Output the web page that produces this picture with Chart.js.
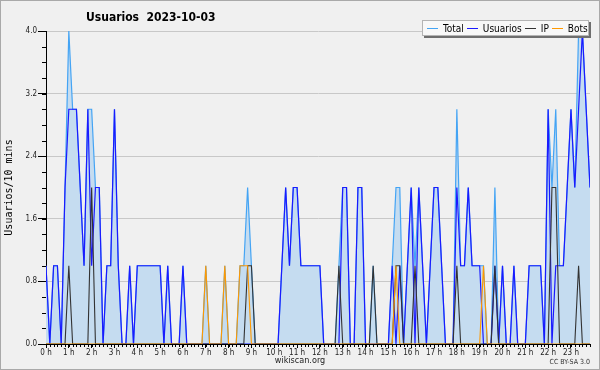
<!DOCTYPE html>
<html>
<head>
<meta charset="utf-8">
<script src="https://cdn.jsdelivr.net/npm/chart.js"></script>
<style>
  body { margin: 0; background: #f0f0f0; }
  #wrap { position: relative; width: 600px; height: 370px; overflow: hidden;
          font-family: "DejaVu Sans Condensed", "DejaVu Sans", sans-serif; color: #000; }
  #chart { position: absolute; left: 0; top: 0; }
  #frame { position: absolute; left: 0; top: 0; width: 600px; height: 370px; box-sizing: border-box;
           border: 1px solid #a9a9a9; pointer-events: none; }
  #title { position: absolute; left: 86px; top: 10px; font-size: 12px; font-weight: bold; white-space: pre; }
  #legend { position: absolute; left: 422px; top: 20px; width: 167px; height: 16px; box-sizing: border-box;
            background: #f8f8f8; border: 1px solid #b4b4b4; box-shadow: 2px 2px 0 #6e6e6e;
            font-size: 10px; display: flex; align-items: center; padding-left: 4px; white-space: nowrap; }
  #legend .it { display: flex; align-items: center; flex-shrink: 0; margin-right: 3px; }
  #legend .ln { display: block; flex-shrink: 0; width: 11px; height: 1px; margin-right: 5px; }
  #site { position: absolute; left: 0; width: 600px; top: 355px; text-align: center; font-size: 9px; color: #222; }
  #lic { position: absolute; right: 10px; top: 358px; font-size: 7px; color: #333; }
</style>
</head>
<body>
<div id="wrap">
  <canvas id="chart" width="600" height="370"></canvas>
  <div id="title">Usuarios  2023-10-03</div>
  <div id="legend">
    <span class="it"><span class="ln" style="background:#44a4f4"></span>Total</span>
    <span class="it"><span class="ln" style="background:#1a1aff"></span>Usuarios</span>
    <span class="it"><span class="ln" style="background:#333"></span>IP</span>
    <span class="it"><span class="ln" style="background:#ff9900"></span>Bots</span>
  </div>
  <div id="site">wikiscan.org</div>
  <div id="lic">CC BY-SA 3.0</div>
  <div id="frame"></div>
</div>
<script>
// one value per 10 minutes, 6 per row = one hour per row
const total = [
  1,0,1,1,0,2,  4,3,3,2,1,3,  3,2,2,0,1,1,  3,1,0,0,1,0,
  1,1,1,1,1,1,  1,0,1,0,0,0,  1,0,0,0,0,0,  1,0,0,0,0,1,
  0,0,0,1,1,2,  1,0,0,0,0,0,  0,0,1,2,1,2,  2,1,1,1,1,1,
  1,0,0,0,0,1,  2,2,0,0,2,2,  0,0,1,0,0,0,  0,1,2,2,0,1,
  2,1,2,1,0,1,  2,2,1,0,0,0,  3,1,1,2,1,1,  1,1,0,0,2,0,
  1,0,0,1,0,0,  0,1,1,1,1,0,  3,2,3,1,1,2,  3,2,4,4,3,2
];
const usuarios = [
  1,0,1,1,0,2,  3,3,3,2,1,3,  1,2,2,0,1,1,  3,1,0,0,1,0,
  1,1,1,1,1,1,  1,0,1,0,0,0,  1,0,0,0,0,0,  0,0,0,0,0,0,
  0,0,0,0,0,0,  0,0,0,0,0,0,  0,0,1,2,1,2,  2,1,1,1,1,1,
  1,0,0,0,0,0,  2,2,0,0,2,2,  0,0,0,0,0,0,  0,1,0,1,0,1,
  2,0,2,1,0,1,  2,2,1,0,0,0,  2,1,1,2,1,1,  1,0,0,0,1,0,
  1,0,0,1,0,0,  0,1,1,1,1,0,  3,0,1,1,1,2,  3,2,3,4,3,2
];
const ip = [
  0,0,0,0,0,0,  1,0,0,0,0,0,  2,0,0,0,0,0,  0,0,0,0,0,0,
  0,0,0,0,0,0,  0,0,0,0,0,0,  0,0,0,0,0,0,  0,0,0,0,0,0,
  0,0,0,0,0,1,  1,0,0,0,0,0,  0,0,0,0,0,0,  0,0,0,0,0,0,
  0,0,0,0,0,1,  0,0,0,0,0,0,  0,0,1,0,0,0,  0,0,1,1,0,0,
  0,1,0,0,0,0,  0,0,0,0,0,0,  1,0,0,0,0,0,  0,0,0,0,1,0,
  0,0,0,0,0,0,  0,0,0,0,0,0,  0,2,2,0,0,0,  0,0,1,0,0,0
];
const bots = [
  0,0,0,0,0,0,  0,0,0,0,0,0,  0,0,0,0,0,0,  0,0,0,0,0,0,
  0,0,0,0,0,0,  0,0,0,0,0,0,  0,0,0,0,0,0,  1,0,0,0,0,1,
  0,0,0,1,1,1,  0,0,0,0,0,0,  0,0,0,0,0,0,  0,0,0,0,0,0,
  0,0,0,0,0,0,  0,0,0,0,0,0,  0,0,0,0,0,0,  0,0,1,0,0,0,
  0,0,0,0,0,0,  0,0,0,0,0,0,  0,0,0,0,0,0,  0,1,0,0,0,0,
  0,0,0,0,0,0,  0,0,0,0,0,0,  0,0,0,0,0,0,  0,0,0,0,0,0
];
const yTicks = [0, 0.8, 1.6, 2.4, 3.2, 4.0];

const pts = arr => arr.map((v, i) => ({ x: i, y: v }));

// 10 minute ticks on x, 0.2 ticks on y
const minorTicks = {
  id: 'minorTicks',
  afterDraw(chart) {
    const { ctx, scales: { x, y } } = chart;
    ctx.save();
    ctx.strokeStyle = '#000';
    ctx.lineWidth = 1;
    ctx.beginPath();
    for (let i = 0; i < total.length; i++) {
      const px = Math.round(x.getPixelForValue(i)) + 0.5;
      ctx.moveTo(px, y.bottom);
      ctx.lineTo(px, y.bottom + 3);
    }
    for (let k = 0; k <= 20; k++) {
      const py = Math.round(y.getPixelForValue(k * 0.2)) + 0.5;
      ctx.moveTo(x.left - 4, py);
      ctx.lineTo(x.left, py);
    }
    ctx.stroke();
    ctx.restore();
  }
};

const tickFont = { family: '"DejaVu Sans Condensed", "DejaVu Sans", sans-serif', size: 8 };

new Chart(document.getElementById('chart'), {
  type: 'line',
  data: {
    datasets: [
      { label: 'Total', data: pts(total), borderColor: '#44a4f4', borderWidth: 1.2,
        backgroundColor: '#c5dcf0', fill: 'origin', order: 4 },
      { label: 'Usuarios', data: pts(usuarios), borderColor: '#1a1aff', borderWidth: 1.2,
        fill: false, order: 3 },
      { label: 'IP', data: pts(ip), borderColor: '#333333', borderWidth: 1.1,
        fill: false, order: 2 },
      { label: 'Bots', data: pts(bots), borderColor: '#ff9900', borderWidth: 1.1,
        fill: false, order: 1 }
    ]
  },
  options: {
    responsive: false,
    animation: false,
    devicePixelRatio: 1,
    layout: { padding: { top: 31, right: 10, left: 0, bottom: 0 } },
    elements: { point: { radius: 0 }, line: { tension: 0 } },
    plugins: { legend: { display: false }, title: { display: false }, tooltip: { enabled: false } },
    scales: {
      x: {
        type: 'linear', min: 0, max: total.length - 1,
        afterFit: s => { s.height = 26; },
        grid: { drawOnChartArea: false, drawTicks: true, tickLength: 4, tickColor: '#000' },
        border: { color: '#000', width: 1 },
        ticks: { stepSize: 6, includeBounds: false, autoSkip: false, maxRotation: 0, minRotation: 0,
                 padding: 0, color: '#222', font: tickFont,
                 callback: v => (v / 6) + ' h' }
      },
      y: {
        min: 0, max: 4,
        afterFit: s => { s.width = 46; },
        afterBuildTicks: s => { s.ticks = yTicks.map(v => ({ value: v })); },
        grid: { color: '#c8c8c8', drawTicks: true, tickLength: 8, tickColor: '#000' },
        border: { color: '#000', width: 1 },
        ticks: { padding: 1, color: '#222', font: tickFont, callback: v => v.toFixed(1) },
        title: { display: true, text: 'Usuarios/10 mins', color: '#000',
                 font: { family: '"DejaVu Sans Mono", monospace', size: 10 },
                 padding: { top: 3, bottom: 0 } }
      }
    }
  },
  plugins: [minorTicks]
});
</script>
</body>
</html>
